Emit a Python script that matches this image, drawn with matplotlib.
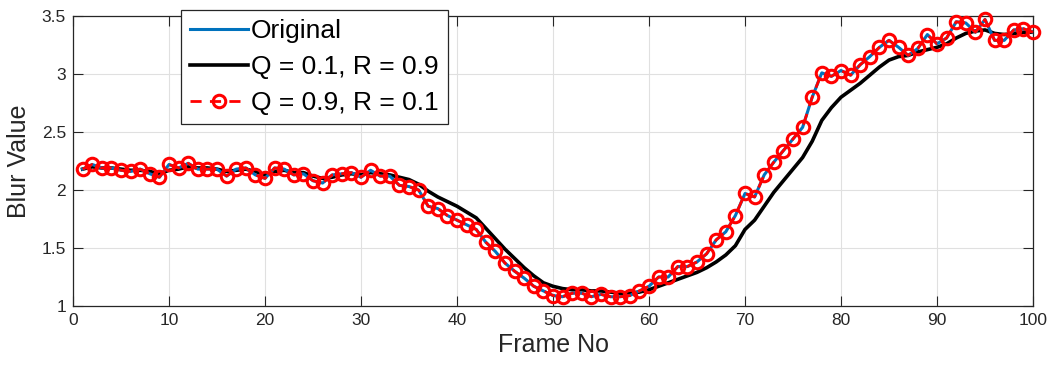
import numpy as np
import matplotlib.pyplot as plt

plt.rcParams['font.family'] = ['Liberation Sans', 'DejaVu Sans']

frames = np.arange(1, 101)

original = [2.18, 2.22, 2.19, 2.19, 2.17, 2.16, 2.18, 2.14, 2.11, 2.22,
            2.19, 2.23, 2.18, 2.18, 2.18, 2.12, 2.18, 2.19, 2.13, 2.10,
            2.19, 2.18, 2.13, 2.14, 2.08, 2.06, 2.13, 2.14, 2.15, 2.11,
            2.17, 2.12, 2.12, 2.04, 2.03, 2.00, 1.86, 1.84, 1.78, 1.74,
            1.70, 1.66, 1.55, 1.47, 1.37, 1.30, 1.24, 1.17, 1.13, 1.09,
            1.08, 1.11, 1.11, 1.08, 1.10, 1.08, 1.08, 1.09, 1.13, 1.17,
            1.25, 1.25, 1.34, 1.34, 1.38, 1.45, 1.57, 1.64, 1.78, 1.97,
            1.94, 2.13, 2.24, 2.34, 2.44, 2.54, 2.80, 3.01, 2.98, 3.03,
            2.99, 3.08, 3.15, 3.23, 3.29, 3.23, 3.16, 3.22, 3.34, 3.26,
            3.31, 3.45, 3.44, 3.36, 3.47, 3.29, 3.29, 3.38, 3.39, 3.36]

q01_r09 = [2.18, 2.20, 2.19, 2.19, 2.18, 2.17, 2.17, 2.16, 2.14, 2.17,
           2.18, 2.20, 2.19, 2.19, 2.18, 2.16, 2.17, 2.18, 2.16, 2.13,
           2.16, 2.17, 2.15, 2.15, 2.12, 2.10, 2.11, 2.13, 2.14, 2.13,
           2.15, 2.14, 2.13, 2.11, 2.09, 2.05, 1.99, 1.94, 1.90, 1.86,
           1.81, 1.76, 1.67, 1.58, 1.49, 1.41, 1.33, 1.26, 1.20, 1.17,
           1.15, 1.14, 1.14, 1.13, 1.13, 1.12, 1.11, 1.11, 1.12, 1.14,
           1.17, 1.20, 1.23, 1.26, 1.29, 1.33, 1.38, 1.44, 1.52, 1.66,
           1.74, 1.86, 1.98, 2.08, 2.18, 2.28, 2.42, 2.60, 2.71, 2.80,
           2.86, 2.92, 2.99, 3.06, 3.12, 3.15, 3.16, 3.19, 3.21, 3.23,
           3.26, 3.31, 3.35, 3.37, 3.38, 3.35, 3.34, 3.35, 3.36, 3.36]

# Q = 0.9, R = 0.1 follows the original almost exactly
q09_r01 = list(original)

fig = plt.figure(figsize=(10.49, 3.70), dpi=100)
# axes box: x 73..1033 px, y 16..306 px
ax = fig.add_axes([73 / 1049, 1 - 306 / 370, 960 / 1049, 290 / 370])

ax.plot(frames, original, color='#0072BD', lw=2.2, label='Original', zorder=3)
ax.plot(frames, q01_r09, color='black', lw=2.6, label='Q = 0.1, R = 0.9', zorder=2)
ax.plot(frames, q09_r01, color='red', lw=2, ls='--', dashes=(4, 3),
        marker='o', ms=9, mfc='none', mec='red', mew=2.2,
        label='Q = 0.9, R = 0.1', zorder=4, clip_on=False)

ax.set_xlim(0, 100)
ax.set_ylim(1, 3.5)
ax.set_xticks(np.arange(0, 101, 10))
ax.set_yticks([1, 1.5, 2, 2.5, 3, 3.5])
ax.set_yticklabels(['1', '1.5', '2', '2.5', '3', '3.5'])
ax.tick_params(direction='in', top=True, right=True, labelsize=12.5, length=7,
               colors='#262626', pad=5)
ax.grid(True, color='#e0e0e0', lw=0.8)
ax.set_axisbelow(True)
for s in ax.spines.values():
    s.set_color('#262626')
    s.set_linewidth(0.9)

ax.set_xlabel('Frame No', fontsize=18, color='#262626', labelpad=4)
ax.set_ylabel('Blur Value', fontsize=18, color='#262626', labelpad=8)

leg = ax.legend(loc='upper left', bbox_to_anchor=(181 / 1049, 1 - 10 / 370),
                bbox_transform=fig.transFigure, fontsize=19, frameon=True,
                fancybox=False, edgecolor='#262626', framealpha=1,
                handlelength=2.2, handletextpad=0.1, borderaxespad=0,
                borderpad=0.35, labelspacing=0.45)
leg.get_frame().set_linewidth(0.9)
leg.set_zorder(10)

fig.savefig('out.png', dpi=100)
